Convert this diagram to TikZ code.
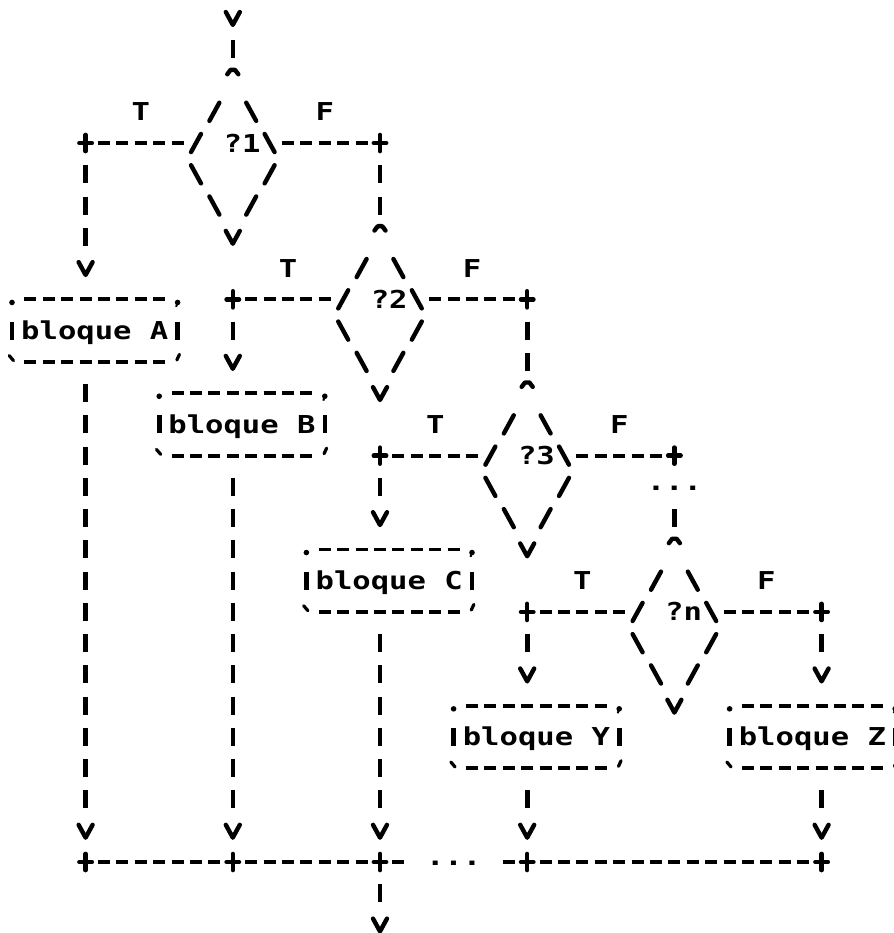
\documentclass[tikz,border=0pt]{standalone}
\usepackage{fontspec}
\usepackage{graphicx}
\newfontfamily\asciifont{DejaVu Sans Mono}[FakeStretch=1.24]
\usetikzlibrary{calc}

\newcommand\asc{\fontsize{12.32pt}{14pt}\selectfont\asciifont\bfseries}

\tikzset{
  glyph/.style={line width=2.2pt, line cap=round, line join=round},
  hconn/.style={line width=1.9pt, dash pattern=on 6pt off 3.2pt, shorten <=6.2pt, shorten >=6.2pt},
  vconn/.style={line width=2.3pt, dash pattern=on 9pt off 6.63pt, shorten <=11.13pt, shorten >=11.13pt},
  lbl/.style={font=\asc, inner sep=0pt, outer sep=0pt, text height=9pt, text depth=0pt},
  bloquebox/.style={lbl, minimum width=82.8pt, minimum height=31.26pt},
  vg/.pic={\draw[glyph] (-0.38,-0.19) -- (0,0.22) -- (0.38,-0.19);},
  cg/.pic={\draw[glyph] (-0.3,-0.2) -- (-0.12,-0.34) -- (0.12,-0.34) -- (0.3,-0.2);},
  pg/.pic={\draw[glyph] (-0.34,0) -- (0.34,0) (0,-0.26) -- (0,0.26);},
  sg/.pic={\draw[glyph] (-0.27,0.29) -- (0.27,-0.29);},
  bg/.pic={\draw[glyph] (-0.27,-0.29) -- (0.27,0.29);},
  dotg/.pic={\fill (0,0.1) circle (1.4pt);},
  commag/.pic={\fill (0,0.1) circle (1.4pt); \draw[line width=1pt] (0,0.1) -- (-0.08,0.24);},
  btg/.pic={\draw[glyph, line width=1.6pt] (-0.15,-0.2) -- (0.08,-0.04);},
  qg/.pic={\draw[glyph, line width=1.6pt] (0.1,-0.24) -- (-0.04,-0.06);},
}

\newcommand\mkdiamond[4]{%
  \coordinate (#1t) at (#2,#3);
  \coordinate (#1l) at ({#2-2},{#3+2});
  \coordinate (#1r) at ({#2+2},{#3+2});
  \coordinate (#1b) at (#2,{#3+5});
  \node[lbl] (#1) at ({#2+0.5},{#3+2}) {#4};
  \pic at (#1t) {cg};
  \pic at ({#2-1},{#3+1}) {sg};
  \pic at ({#2+1},{#3+1}) {bg};
  \pic at (#1l) {sg};
  \pic at (#1r) {bg};
  \pic at ({#2-2},{#3+3}) {bg};
  \pic at ({#2+2},{#3+3}) {sg};
  \pic at ({#2-1},{#3+4}) {bg};
  \pic at ({#2+1},{#3+4}) {sg};
  \pic at (#1b) {vg};
}

\newcommand\mkbox[3]{%
  \node[bloquebox] (#1) at (#2) {#3};
  \draw[hconn] (#1.north west) -- (#1.north east);
  \draw[hconn] (#1.south west) -- (#1.south east);
  \draw[vconn] (#1.north west) -- (#1.south west);
  \draw[vconn] (#1.north east) -- (#1.south east);
  \pic at (#1.north west) {dotg};
  \pic at (#1.north east) {commag};
  \pic at (#1.south west) {btg};
  \pic at (#1.south east) {qg};
}

\begin{document}
\begin{tikzpicture}[x=9.2pt,y=-15.63pt]
\useasboundingbox (-0.6522,-0.5758) rectangle (47.935,29.271);
\clip (-0.6522,-0.5758) rectangle (47.935,29.271);
\fill[white] (-0.6522,-0.5758) rectangle (47.935,29.271);

% entry
\coordinate (in0) at (12,0);
\pic at (in0) {vg};

% decision ?1
\mkdiamond{da}{12}{2}{?1}
\draw[vconn] (in0) -- (dat);
\node[lbl] (ta) at (7,3) {T};
\node[lbl] (fa) at (17,3) {F};
\coordinate (pal) at (4,4);
\coordinate (par) at (20,4);
\pic at (pal) {pg};
\pic at (par) {pg};
\draw[hconn] (pal) -- (dal);
\draw[hconn] (dar) -- (par);
\coordinate (va) at (4,8);
\pic at (va) {vg};
\draw[vconn] (pal) -- (va);
\mkbox{bA}{4.5,10}{bloque A}

% decision ?2
\mkdiamond{db}{20}{7}{?2}
\draw[vconn] (par) -- (dbt);
\node[lbl] (tb) at (15,8) {T};
\node[lbl] (fb) at (25,8) {F};
\coordinate (pbl) at (12,9);
\coordinate (pbr) at (28,9);
\pic at (pbl) {pg};
\pic at (pbr) {pg};
\draw[hconn] (pbl) -- (dbl);
\draw[hconn] (dbr) -- (pbr);
\coordinate (vb) at (12,11);
\pic at (vb) {vg};
\draw[vconn] (pbl) -- (vb);
\mkbox{bB}{12.5,13}{bloque B}

% decision ?3
\mkdiamond{dc}{28}{12}{?3}
\draw[vconn] (pbr) -- (dct);
\node[lbl] (tc) at (23,13) {T};
\node[lbl] (fc) at (33,13) {F};
\coordinate (pcl) at (20,14);
\coordinate (pcr) at (36,14);
\pic at (pcl) {pg};
\pic at (pcr) {pg};
\draw[hconn] (pcl) -- (dcl);
\draw[hconn] (dcr) -- (pcr);
\coordinate (vc) at (20,16);
\pic at (vc) {vg};
\draw[vconn] (pcl) -- (vc);
\mkbox{bC}{20.5,18}{bloque C}
\coordinate (dk) at (36,15);
\node[lbl, yshift=2.6pt] (dots1) at (dk) {...};

% decision ?n
\mkdiamond{dd}{36}{17}{?n}
\draw[vconn] (dk) -- (ddt);
\node[lbl] (td) at (31,18) {T};
\node[lbl] (fd) at (41,18) {F};
\coordinate (pdl) at (28,19);
\coordinate (pdr) at (44,19);
\pic at (pdl) {pg};
\pic at (pdr) {pg};
\draw[hconn] (pdl) -- (ddl);
\draw[hconn] (ddr) -- (pdr);
\coordinate (vy) at (28,21);
\coordinate (vz) at (44,21);
\pic at (vy) {vg};
\pic at (vz) {vg};
\draw[vconn] (pdl) -- (vy);
\draw[vconn] (pdr) -- (vz);
\mkbox{bY}{28.5,23}{bloque Y}
\mkbox{bZ}{43.5,23}{bloque Z}

% join
\coordinate (ea) at (4,26);
\coordinate (eb) at (12,26);
\coordinate (ec) at (20,26);
\coordinate (ey) at (28,26);
\coordinate (ez) at (44,26);
\foreach \e in {ea,eb,ec,ey,ez} {\pic at (\e) {vg};}
\draw[vconn] (bA.south -| ea) -- (ea);
\draw[vconn] (bB.south -| eb) -- (eb);
\draw[vconn] (bC.south -| ec) -- (ec);
\draw[vconn] (bY.south -| ey) -- (ey);
\draw[vconn] (bZ.south -| ez) -- (ez);

\coordinate (qa) at (4,27);
\coordinate (qb) at (12,27);
\coordinate (qc) at (20,27);
\coordinate (qy) at (28,27);
\coordinate (qz) at (44,27);
\foreach \q in {qa,qb,qc,qy,qz} {\pic at (\q) {pg};}
\coordinate (g1) at (22,27);
\coordinate (g2) at (26,27);
\draw[hconn] (qa) -- (qb);
\draw[hconn] (qb) -- (qc);
\draw[hconn] (qc) -- (g1);
\draw[hconn] (g2) -- (qy);
\draw[hconn] (qy) -- (qz);
\node[lbl, yshift=2.6pt] (dots2) at (24,27) {...};

\coordinate (out) at (20,29);
\pic at (out) {vg};
\draw[vconn] (qc) -- (out);
\end{tikzpicture}
\end{document}
